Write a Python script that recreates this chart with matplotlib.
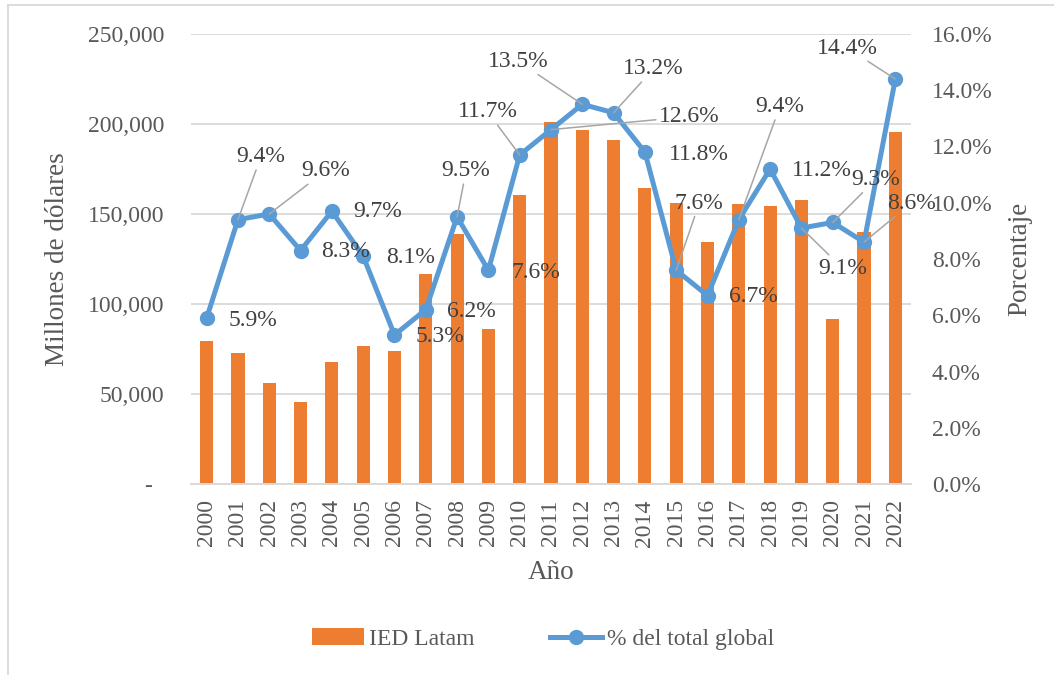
import matplotlib
matplotlib.use("Agg")
import matplotlib.pyplot as plt
from matplotlib.ticker import FuncFormatter, MultipleLocator
from matplotlib.lines import Line2D
import numpy as np

years = list(range(2000, 2023))
ied_latam = [79600, 72600, 56100, 45400, 68000, 76700, 73900, 116700, 138700, 85900,
             160600, 201300, 196500, 191100, 164300, 156300, 134300, 155700, 154300,
             157900, 91500, 139800, 195600]
pct_global = [5.9, 9.4, 9.6, 8.3, 9.7, 8.1, 5.3, 6.2, 9.5, 7.6, 11.7, 12.6, 13.5, 13.2,
              11.8, 7.6, 6.7, 9.4, 11.2, 9.1, 9.3, 8.6, 14.4]

# label offsets (pixels) from each point, and whether a leader line is drawn
label_dx = [46, 23, 56, 45, 46, 47, 45, 46, 9, 47, -32, 138, -64, 40, 54, 23, 46, 41, 52, 41, 43, 47, -48]
label_dy = [-2, 63, 43, -1, 0, -1, -2, -2, 46, -2, 43, 13, 43, 44, -2, 67, -1, 113, -2, -40, 43, 39, 31]
leader = [False, True, True, False, False, False, False, False, True, False, True, True, True,
          True, False, True, False, True, False, True, True, True, True]

text_color = "#595959"
bar_color = "#ED7D31"
line_color = "#5B9BD5"

plt.rcParams["font.family"] = ["Liberation Serif", "DejaVu Serif"]
plt.rcParams["text.color"] = text_color
plt.rcParams["axes.labelcolor"] = text_color
plt.rcParams["xtick.color"] = text_color
plt.rcParams["ytick.color"] = text_color

fig = plt.figure(figsize=(10.54, 6.75), dpi=100)
ax1 = fig.add_axes([191 / 1054, 1 - 484 / 675, 720 / 1054, 450 / 675])
ax2 = ax1.twinx()

x = np.arange(len(years))
bars = ax1.bar(x, ied_latam, width=0.42, color=bar_color, zorder=2, label="IED Latam")

ax1.set_xlim(-0.5, len(years) - 0.5)
ax1.set_ylim(0, 250000)
ax1.yaxis.set_major_locator(MultipleLocator(50000))
ax1.yaxis.set_major_formatter(FuncFormatter(lambda v, p: "-  " if v == 0 else f"{v:,.0f}"))
ax1.grid(axis="y", color="#d9d9d9", linewidth=1.3, zorder=0)
ax1.set_axisbelow(True)
ax1.set_xticks(x)
ax1.set_xticklabels([str(y) for y in years], rotation=90, fontsize=17)
ax1.tick_params(axis="y", length=0, pad=19, labelsize=17)
ax1.tick_params(axis="x", length=0, pad=11)

line, = ax2.plot(x, pct_global, color=line_color, linewidth=3.6, marker="o",
                 markersize=10, label="% del total global", zorder=3)
ax2.set_ylim(0, 16)
ax2.yaxis.set_major_locator(MultipleLocator(2))
ax2.yaxis.set_major_formatter(FuncFormatter(lambda v, p: f"{v:.1f}%"))
ax2.tick_params(axis="y", length=0, pad=15, labelsize=17)

for ax in (ax1, ax2):
    for side in ("top", "right", "left"):
        ax.spines[side].set_visible(False)
    ax.spines["bottom"].set_color("#d9d9d9")
    ax.spines["bottom"].set_linewidth(1.3)

for i, v in enumerate(pct_global):
    props = None
    if leader[i]:
        props = dict(arrowstyle="-", color="#a6a6a6", lw=1.1, shrinkA=0, shrinkB=0)
    ax2.annotate(f"{v:.1f}%", (x[i], v), xytext=(label_dx[i], label_dy[i]),
                 textcoords="offset pixels", ha="center", va="center",
                 fontsize=17, color="#404040", arrowprops=props,
                 annotation_clip=False, zorder=4)

ax1.set_ylabel("Millones de dólares", fontsize=19.5)
ax1.yaxis.set_label_coords((70 - 191) / 720, 0.5)
ax2.set_ylabel("Porcentaje", fontsize=19.5)
ax2.yaxis.set_label_coords((1007 - 191) / 720, 0.5)
ax1.set_xlabel("Año", fontsize=19.5)
ax1.xaxis.set_label_coords(0.5, (484 - 560) / 450)

fig.legend([bars, line], ["IED Latam", "% del total global"], loc="center",
           bbox_to_anchor=(543 / 1054, 1 - 639 / 675), ncol=2, frameon=False,
           fontsize=17, handlelength=2.2, handletextpad=0.2, columnspacing=3.2)

# chart-area border (only top and left edges show in the crop)
fig.add_artist(Line2D([8 / 1054, 8 / 1054], [0, 1 - 5 / 675], transform=fig.transFigure,
                      color="#d9d9d9", linewidth=1.3))
fig.add_artist(Line2D([8 / 1054, 1], [1 - 5 / 675, 1 - 5 / 675], transform=fig.transFigure,
                      color="#d9d9d9", linewidth=1.3))

fig.savefig("out.png", dpi=100)
